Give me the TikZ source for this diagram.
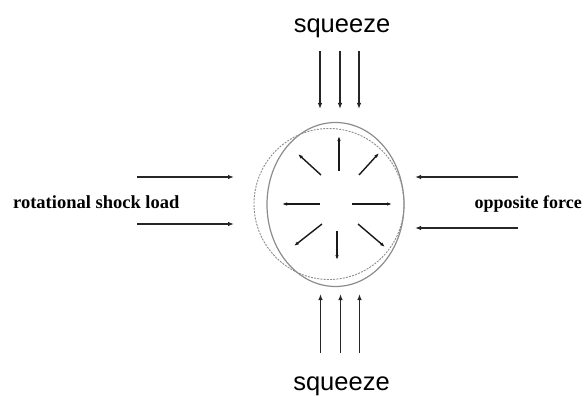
\documentclass[tikz,border=0pt]{standalone}
\usepackage{fontspec}
\setmainfont{Liberation Serif}
\newfontfamily\arialfont{Liberation Sans}
\usetikzlibrary{arrows.meta}
\tikzset{
  force/.style={line width=1.2pt, draw=black!85, -{Latex[length=6pt,width=4.5pt]}},
  inner/.style={line width=1.4pt, draw=black!90, -{Latex[length=5pt,width=3.5pt]}},
  sqz/.style={font=\arialfont\fontsize{25.5}{30}\selectfont, inner sep=0pt, anchor=base},
  lbl/.style={font=\bfseries\fontsize{18.5}{22}\selectfont, inner sep=0pt, anchor=base},
  solidshape/.style={draw=black!45, line width=1.2pt},
  dashshape/.style={draw=black!45, line width=0.9pt, dash pattern=on 2pt off 1.2pt},
}
\begin{document}
\begin{tikzpicture}[x=1pt,y=-1pt]
\useasboundingbox (0,0) rectangle (587,396);
% shapes
\draw[dashshape] (329,204) ellipse [x radius=75, y radius=75.5];
\draw[solidshape] (335.5,204.5) ellipse [x radius=68.5, y radius=82];
% texts
\node[sqz] (sqtop) at (342,33) {squeeze};
\node[sqz] (sqbot) at (341.5,390) {squeeze};
\node[lbl, anchor=base west] (rot) at (13,208) {rotational shock load};
\node[lbl, anchor=base east, font=\bfseries\fontsize{18}{21}\selectfont] (opp) at (582,208) {opposite force};
% top and bottom arrows
\foreach \i/\x in {1/320,2/340,3/359}{
  \coordinate (ts\i) at (\x,51);
  \coordinate (te\i) at (\x,109);
  \draw[force] (ts\i) -- (te\i);
  \coordinate (bs\i) at (\x+0.5,353);
  \coordinate (be\i) at (\x+0.5,294);
  \draw[force] (bs\i) -- (be\i);
}
% left arrows
\coordinate (l1s) at (137,177); \coordinate (l1e) at (234,177);
\coordinate (l2s) at (137,224); \coordinate (l2e) at (234,224);
\draw[force] (l1s) -- (l1e);
\draw[force] (l2s) -- (l2e);
% right arrows
\coordinate (r1s) at (518,177); \coordinate (r1e) at (415,177);
\coordinate (r2s) at (518,228); \coordinate (r2e) at (415,228);
\draw[force] (r1s) -- (r1e);
\draw[force] (r2s) -- (r2e);
% inner radial arrows
\coordinate (ius) at (339,171); \coordinate (iue) at (339,136);
\coordinate (ids) at (337,231); \coordinate (ide) at (337,260);
\coordinate (ils) at (320,204); \coordinate (ile) at (282,204);
\coordinate (irs) at (352,204); \coordinate (ire) at (392,204);
\coordinate (iuls) at (321,175); \coordinate (iule) at (298,154);
\coordinate (iurs) at (359,175); \coordinate (iure) at (379,153);
\coordinate (idls) at (322,224); \coordinate (idle) at (294,246);
\coordinate (idrs) at (358,224); \coordinate (idre) at (385,247);
\draw[inner] (ius) -- (iue);
\draw[inner] (ids) -- (ide);
\draw[inner] (ils) -- (ile);
\draw[inner] (irs) -- (ire);
\draw[inner] (iuls) -- (iule);
\draw[inner] (iurs) -- (iure);
\draw[inner] (idls) -- (idle);
\draw[inner] (idrs) -- (idre);
\end{tikzpicture}
\end{document}
